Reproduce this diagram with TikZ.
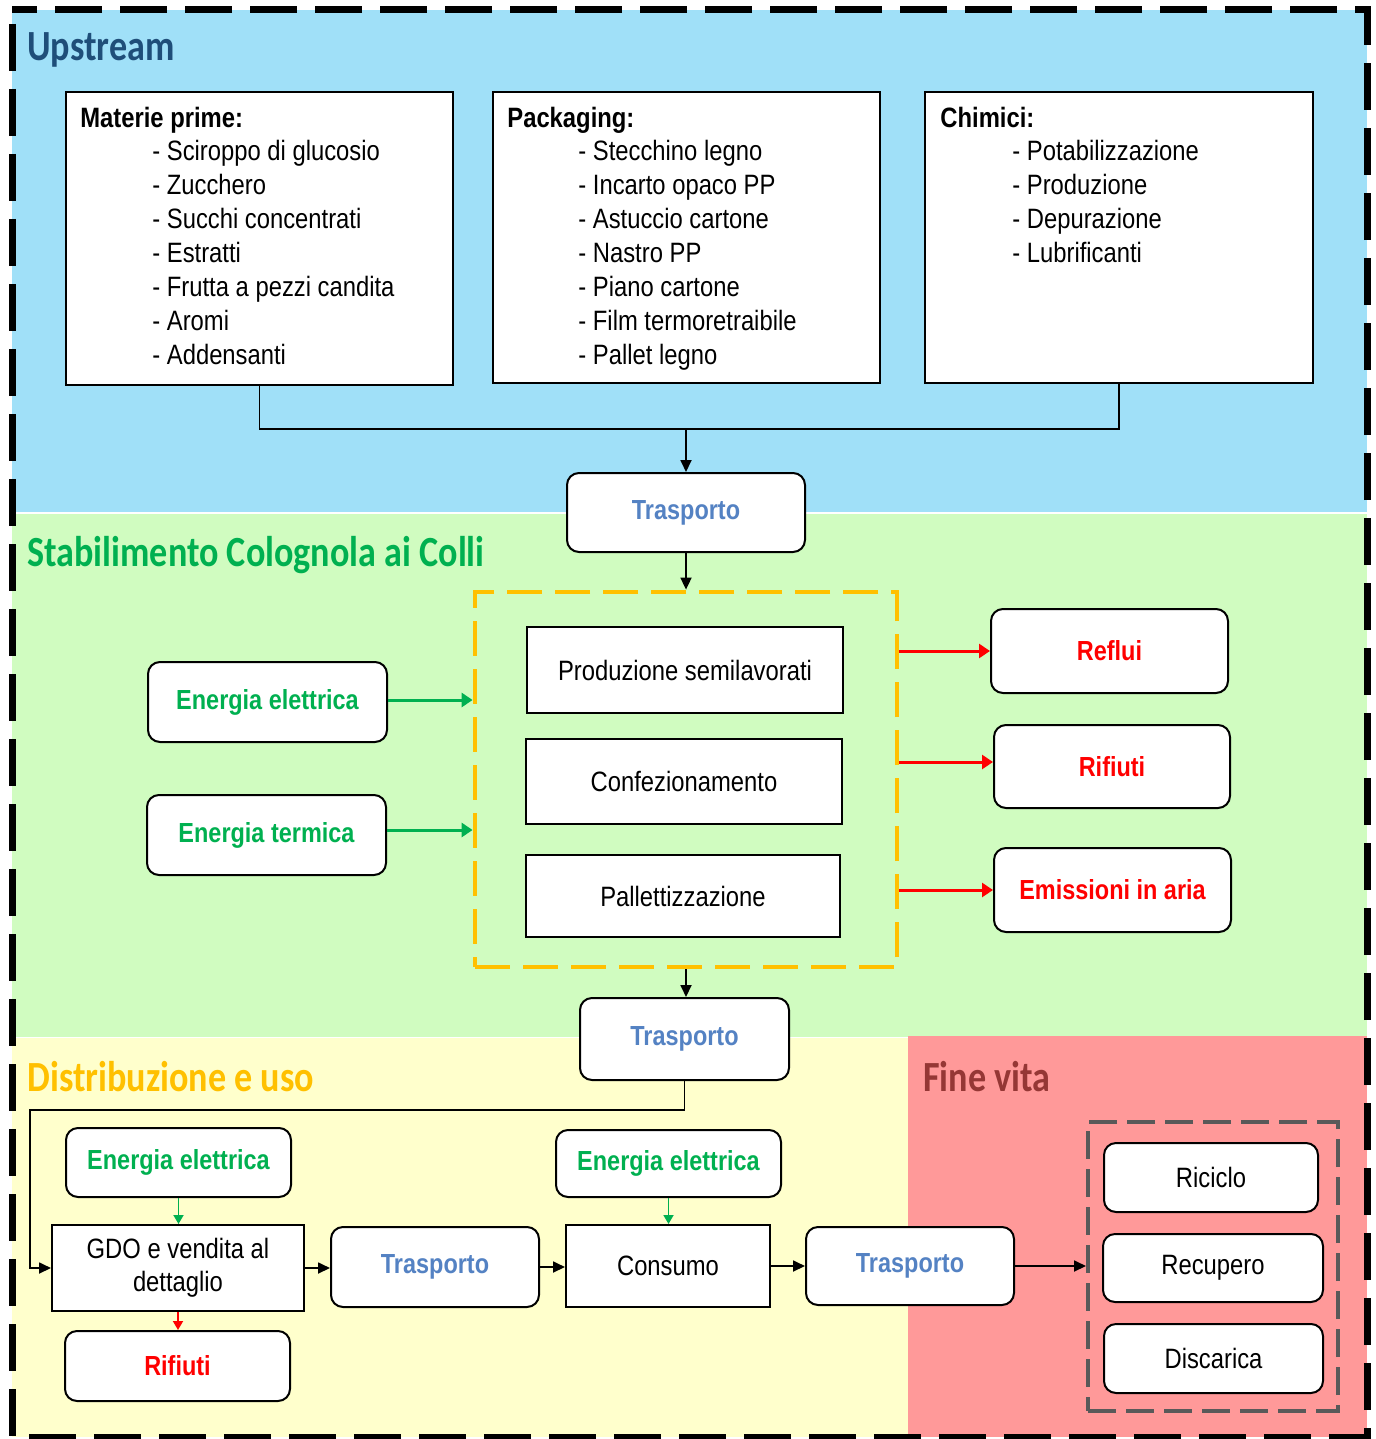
\documentclass[tikz,border=0pt]{standalone}
\usepackage{fontspec}
\setmainfont{Liberation Sans}[FakeStretch=0.85]
\newfontfamily\titlefont{Carlito}[FakeStretch=0.84]
\usetikzlibrary{arrows.meta}
\definecolor{bandblue}{HTML}{A0E0F8}
\definecolor{bandgreen}{HTML}{D0FCC0}
\definecolor{bandyellow}{HTML}{FFFFCC}
\definecolor{bandred}{HTML}{FF9999}
\definecolor{ttblue}{HTML}{1F4E79}
\definecolor{ttgreen}{HTML}{00B050}
\definecolor{ttorange}{HTML}{FFC000}
\definecolor{ttred}{HTML}{953735}
\definecolor{trblue}{HTML}{5482C3}
\definecolor{grayframe}{HTML}{595959}
\begin{document}
\begin{tikzpicture}[x=0.5pt,y=-0.5pt,
  box/.style={draw, line width=1pt, fill=white, inner sep=0pt, font=\fontsize{14}{17}\selectfont},
  rbox/.style={box, rounded corners=6pt},
  lbl/.style={font=\bfseries\fontsize{13.8}{17}\selectfont},
  arr/.style={-{Triangle[length=6pt,width=5.5pt]}, line width=0.9pt},
  carr/.style={-{Triangle[length=5.5pt,width=7pt]}, line width=1.5pt},
  sarr/.style={-{Triangle[length=4.5pt,width=5pt]}, line width=0.9pt},
  title/.style={anchor=west, inner sep=0pt, font=\titlefont\bfseries\fontsize{21.5}{24}\selectfont},
  itemtxt/.style={anchor=base west, inner sep=0pt, font=\fontsize{14}{17}\selectfont},
  headtxt/.style={anchor=base west, inner sep=0pt, font=\bfseries\fontsize{14}{17}\selectfont}
]
\useasboundingbox (0,0) rectangle (1375,1439);
% bands
\fill[white] (0,0) rectangle (1375,1439);
\fill[bandblue] (12,10) rectangle (1367,512);
\fill[bandgreen] (12,514) rectangle (1367,1037);
\fill[bandyellow] (12,1038) rectangle (908,1437);
\fill[bandred] (908,1036) rectangle (1367,1437);
\draw[line width=3.5pt, dash pattern=on 23.5pt off 9pt, dash phase=-7pt] (12,10) rectangle (1367,1437);

% titles
\node[title, text=ttblue] (tup) at (27,50) {Upstream};
\node[title, text=ttgreen] (tst) at (27,555) {Stabilimento Colognola ai Colli};
\node[title, text=ttorange] (tdi) at (27,1077) {Distribuzione e uso};
\node[title, text=ttred] (tfv) at (923,1077) {Fine vita};

% upstream boxes
\node[box, minimum width=193.5pt, minimum height=146.5pt] (mat) at (259.5,238.5) {};
\node[box, minimum width=193.5pt, minimum height=145.5pt] (pack) at (686.5,237.5) {};
\node[box, minimum width=194pt, minimum height=145.5pt] (chim) at (1119,237.5) {};
\node[headtxt] (hmat) at (80,128) {Materie prime:};
\node[headtxt] (hpack) at (507,128) {Packaging:};
\node[headtxt] (hchim) at (940,128) {Chimici:};
\foreach \t [count=\i from 0] in {Sciroppo di glucosio, Zucchero, Succhi concentrati, Estratti, Frutta a pezzi candita, Aromi, Addensanti}
  \node[itemtxt] (m\i) at (152,161+33.9*\i) {- \t};
\foreach \t [count=\i from 0] in {Stecchino legno, Incarto opaco PP, Astuccio cartone, Nastro PP, Piano cartone, Film termoretraibile, Pallet legno}
  \node[itemtxt] (p\i) at (578,161+33.9*\i) {- \t};
\foreach \t [count=\i from 0] in {Potabilizzazione, Produzione, Depurazione, Lubrificanti}
  \node[itemtxt] (c\i) at (1012,161+33.9*\i) {- \t};

\node[rbox, minimum width=119pt, minimum height=39.5pt, lbl, text=trblue] (tr1) at (686,512.5) {Trasporto};
\coordinate (join) at (686,429);
\draw[line width=0.9pt] (mat.south) |- (join);
\draw[line width=0.9pt] (chim.south) |- (join);
\draw[arr] (join) -- (tr1.north);

% plant
\node[draw=ttorange, line width=2.4pt, dash pattern=on 17.5pt off 6.5pt, minimum width=211pt, minimum height=187.5pt, inner sep=0pt] (plant) at (686,779.5) {};
\draw[arr] (tr1.south) -- (plant.north);
\node[box, minimum width=158pt, minimum height=43pt] (prod) at (685,670) {Produzione semilavorati};
\node[box, minimum width=158pt, minimum height=42.5pt] (conf) at (684,781.5) {Confezionamento};
\node[box, minimum width=157pt, minimum height=41pt] (pall) at (683,896) {Pallettizzazione};

\node[rbox, minimum width=119.5pt, minimum height=40pt, lbl, text=ttgreen] (ee1) at (267.5,702) {Energia elettrica};
\node[rbox, minimum width=119.5pt, minimum height=40pt, lbl, text=ttgreen] (et1) at (266.5,835) {Energia termica};
\draw[carr, draw=ttgreen, fill=ttgreen] (ee1.east |- 0,700) -- (plant.west |- 0,700);
\draw[carr, draw=ttgreen, fill=ttgreen] (et1.east |- 0,830) -- (plant.west |- 0,830);

\node[rbox, minimum width=118.5pt, minimum height=42pt, lbl, text=red] (refl) at (1109.5,651) {Reflui};
\node[rbox, minimum width=118pt, minimum height=41.5pt, lbl, text=red] (rif1) at (1112,766.5) {Rifiuti};
\node[rbox, minimum width=118.5pt, minimum height=42pt, lbl, text=red] (emis) at (1112.5,890) {Emissioni in aria};
\draw[carr, draw=red, fill=red] (plant.east |- refl.west) -- (refl.west);
\draw[carr, draw=red, fill=red] (plant.east |- 0,762) -- (rif1.west |- 0,762);
\draw[carr, draw=red, fill=red] (plant.east |- emis.west) -- (emis.west);

\node[rbox, minimum width=104.5pt, minimum height=41pt, lbl, text=trblue] (tr2) at (684.5,1039) {Trasporto};
\draw[arr] (plant.south) -- (plant.south |- tr2.north);

% distribution
\node[rbox, minimum width=112.5pt, minimum height=34.5pt, lbl, text=ttgreen] (ee2) at (178.5,1162.5) {Energia elettrica};
\node[box, minimum width=126pt, minimum height=43pt, align=center, font=\fontsize{14}{16.5}\selectfont] (gdo) at (178,1268) {GDO e vendita al\\dettaglio};
\node[rbox, minimum width=112.5pt, minimum height=35pt, lbl, text=red] (rif2) at (177.5,1366) {Rifiuti};
\node[rbox, minimum width=104pt, minimum height=40pt, lbl, text=trblue] (tr3) at (435,1267) {Trasporto};
\node[box, minimum width=102pt, minimum height=41pt] (cons) at (668,1266) {Consumo};
\node[rbox, minimum width=112.5pt, minimum height=33.5pt, lbl, text=ttgreen] (ee3) at (668.5,1163.5) {Energia elettrica};
\node[rbox, minimum width=104pt, minimum height=39pt, lbl, text=trblue] (tr4) at (910,1266) {Trasporto};

\coordinate (c1) at (30,1110);
\draw[arr] (tr2.south) |- (c1) |- (gdo.west);
\draw[sarr, draw=ttgreen, fill=ttgreen] (ee2.south) -- (gdo.north -| ee2.south);
\draw[sarr, draw=red, fill=red] (gdo.south) -- (rif2.north -| gdo.south);
\draw[arr] (gdo.east) -- (gdo.east -| tr3.west);
\draw[arr] (tr3.east) -- (tr3.east -| cons.west);
\draw[sarr, draw=ttgreen, fill=ttgreen] (ee3.south) -- (ee3.south |- cons.north);
\draw[arr] (cons.east) -- (tr4.west);

% end of life
\node[draw=grayframe, line width=2pt, dash pattern=on 14pt off 5pt, minimum width=125pt, minimum height=144.5pt, inner sep=0pt] (eol) at (1213,1266.5) {};
\draw[arr] (tr4.east) -- (tr4.east -| eol.west);
\node[rbox, minimum width=107pt, minimum height=34.5pt] (ric) at (1211,1177.5) {Riciclo};
\node[rbox, minimum width=110pt, minimum height=34pt] (rec) at (1213,1268) {Recupero};
\node[rbox, minimum width=109.5pt, minimum height=34.5pt] (dis) at (1213.5,1358.5) {Discarica};
\end{tikzpicture}
\end{document}
